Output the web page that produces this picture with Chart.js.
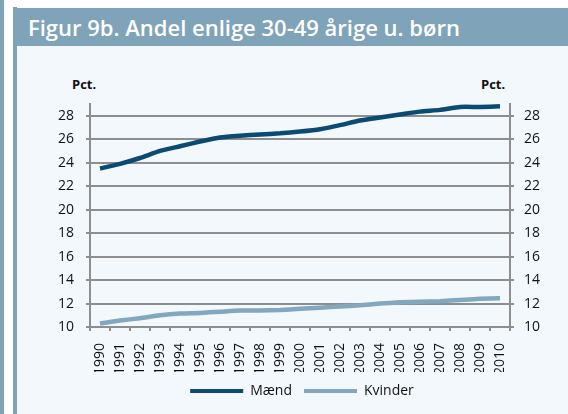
<!DOCTYPE html>
<html>
<head>
<meta charset="utf-8">
<script src="https://cdn.jsdelivr.net/npm/chart.js@4.4.1/dist/chart.umd.min.js"></script>
<style>
  html, body { margin: 0; padding: 0; background: #fff; }
  body { width: 568px; height: 414px; position: relative; overflow: hidden; font-family: "Open Sans", sans-serif; }
  .stripe { position: absolute; background: #7fa3b9; }
  .panel { position: absolute; left: 17px; top: 46px; width: 551px; height: 368px; background: #f3f8fd; }
  .title { position: absolute; left: 17px; top: 8px; width: 551px; height: 38px; background: #7fa3b9;
           color: #fff; font-weight: 600; font-size: 22px; line-height: 38px; padding-left: 11px; box-sizing: border-box; }
  .unit { position: absolute; top: 75px; font-size: 13px; font-weight: 700; color: #111; }
  #chart { position: absolute; left: 36px; top: 0; }
</style>
</head>
<body>
<div class="stripe" style="left:0;top:0;width:4px;height:414px"></div>
<div class="stripe" style="left:13px;top:7px;width:4px;height:407px"></div>
<div class="panel"></div>
<div class="title">Figur 9b. Andel enlige 30-49 årige u. børn</div>
<div class="unit" style="left:72px">Pct.</div>
<div class="unit" style="left:481px">Pct.</div>
<canvas id="chart" width="532" height="414"></canvas>
<script>
const years = ['1990','1991','1992','1993','1994','1995','1996','1997','1998','1999','2000',
               '2001','2002','2003','2004','2005','2006','2007','2008','2009','2010'];
const maend = [23.5, 23.9, 24.4, 25.0, 25.4, 25.8, 26.15, 26.3, 26.4, 26.5, 26.65,
               26.85, 27.2, 27.6, 27.85, 28.1, 28.35, 28.5, 28.75, 28.75, 28.8];
const kvinder = [10.3, 10.55, 10.75, 11.0, 11.15, 11.2, 11.3, 11.4, 11.4, 11.45, 11.55,
                 11.65, 11.75, 11.85, 12.0, 12.1, 12.15, 12.2, 12.3, 12.4, 12.45];
const yTicks = [10, 12, 14, 16, 18, 20, 22, 24, 26, 28];
const yMin = 10, yMax = 29;

const gridGray = '#8e8e8e';
const tickFont = { family: 'Open Sans', size: 14 };

function setTicks(scale) {
  scale.ticks = yTicks.map(v => ({ value: v }));
}

new Chart(document.getElementById('chart'), {
  type: 'line',
  data: {
    labels: years,
    datasets: [
      { label: 'Mænd', data: maend, borderColor: '#0b4a72', backgroundColor: '#0b4a72',
        borderWidth: 4.5, pointRadius: 0, tension: 0.2, yAxisID: 'y' },
      { label: 'Kvinder', data: kvinder, borderColor: '#82a7bf', backgroundColor: '#82a7bf',
        borderWidth: 4.5, pointRadius: 0, tension: 0.2, yAxisID: 'y' }
    ]
  },
  options: {
    responsive: false,
    devicePixelRatio: 1,
    animation: false,
    layout: { padding: { top: 104, bottom: 6, left: 0, right: 0 } },
    plugins: {
      tooltip: { enabled: false },
      legend: {
        position: 'bottom',
        labels: {
          font: { family: 'Open Sans', size: 14 },
          color: '#111',
          boxWidth: 53,
          boxHeight: 4,
          padding: 12,
          generateLabels: chart => chart.data.datasets.map((ds, i) => ({
            text: ds.label, fillStyle: ds.borderColor, strokeStyle: ds.borderColor,
            lineWidth: 0, datasetIndex: i, fontColor: '#111'
          }))
        }
      }
    },
    scales: {
      x: {
        offset: true,
        afterFit: s => { s.height = 45; },
        grid: { offset: true, drawOnChartArea: false, drawTicks: true, tickLength: 4, color: gridGray, lineWidth: 2 },
        border: { color: gridGray, width: 2 },
        ticks: { font: tickFont, color: '#111', minRotation: 90, maxRotation: 90, padding: 12, autoSkip: false }
      },
      y: {
        position: 'left',
        min: yMin, max: yMax,
        afterFit: s => { s.width = 54; },
        afterBuildTicks: setTicks,
        grid: { color: gridGray, lineWidth: 2, tickLength: 4 },
        border: { color: gridGray, width: 2 },
        ticks: { font: tickFont, color: '#111', padding: 12 }
      },
      y1: {
        position: 'right',
        min: yMin, max: yMax,
        afterFit: s => { s.width = 58; },
        afterBuildTicks: setTicks,
        grid: { drawOnChartArea: false, color: gridGray, lineWidth: 2, tickLength: 4 },
        border: { color: gridGray, width: 2 },
        ticks: { font: tickFont, color: '#111', padding: 10 }
      }
    }
  }
});
</script>
</body>
</html>
